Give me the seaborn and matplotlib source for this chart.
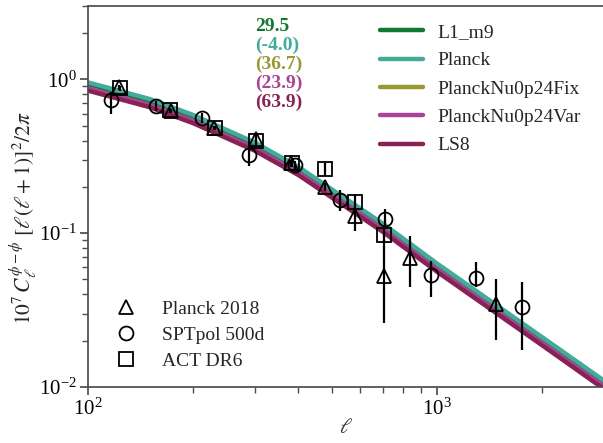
import numpy as np
import pandas as pd
import matplotlib
matplotlib.use("Agg")
import matplotlib.pyplot as plt
import seaborn as sns
from matplotlib.lines import Line2D

# model curves
ell = [100, 150, 200, 300, 400, 500, 700, 1000, 1500, 2000, 3000]
planck = [0.956, 0.746, 0.587, 0.389, 0.270, 0.192, 0.115, 0.0633, 0.0332, 0.0210, 0.0110]
l1_m9 = [0.930, 0.725, 0.570, 0.378, 0.262, 0.186, 0.1115, 0.0614, 0.0322, 0.0204, 0.01067]
nu_fix = [0.870, 0.680, 0.535, 0.354, 0.246, 0.175, 0.1047, 0.0577, 0.0302, 0.0191, 0.0100]
nu_var = [0.875, 0.684, 0.538, 0.356, 0.247, 0.176, 0.1053, 0.0580, 0.0304, 0.0192, 0.01008]
ls8 = [0.845, 0.660, 0.519, 0.344, 0.239, 0.170, 0.1017, 0.0560, 0.0294, 0.0186, 0.0097]

models = ["L1_m9", "Planck", "PlanckNu0p24Fix", "PlanckNu0p24Var", "LS8"]
colors = ["#117733", "#44AA99", "#999933", "#AA4499", "#882255"]
chi2 = ["29.5", "(-4.0)", "(36.7)", "(23.9)", "(63.9)"]

# measurements
planck18_ell = [122.6, 172.6, 229.6, 302, 381.7, 477.5, 582, 701.6, 833, 1476]
planck18_val = [0.887, 0.622, 0.485, 0.411, 0.284, 0.200, 0.1287, 0.0523, 0.0689, 0.0347]
planck18_lo = [0.03, 0.02, 0.015, 0.02, 0.015, 0.012, 0.026, 0.0262, 0.0239, 0.0145]
planck18_hi = [0.03, 0.02, 0.015, 0.03, 0.015, 0.012, 0.02, 0.0386, 0.0275, 0.0158]

spt_ell = [116.6, 157, 212, 289, 392, 527, 710, 961, 1294, 1744]
spt_val = [0.733, 0.670, 0.563, 0.3246, 0.2765, 0.165, 0.1243, 0.0537, 0.0511, 0.0331]
spt_lo = [0.141, 0.05, 0.04, 0.0496, 0.02, 0.026, 0.0177, 0.0152, 0.0061, 0.0157]
spt_hi = [0.09, 0.05, 0.04, 0.0434, 0.02, 0.025, 0.0193, 0.0118, 0.0137, 0.0154]

act_ell = [123.2, 171.5, 231, 302, 384, 477, 582, 702]
act_val = [0.874, 0.628, 0.485, 0.396, 0.284, 0.262, 0.159, 0.0978]
act_err = [0.03, 0.02, 0.015, 0.02, 0.015, 0.025, 0.02, 0.01]

sns.set_theme(style="ticks")
plt.rcParams["font.family"] = ["Liberation Serif", "DejaVu Serif"]
plt.rcParams["mathtext.fontset"] = "stix"

fig = plt.figure(figsize=(6.03, 4.43), dpi=100)
ax = fig.add_axes([88 / 603, 1 - 387 / 443, 516 / 603, 381 / 443])

curves = pd.DataFrame({"ell": ell, "L1_m9": l1_m9, "Planck": planck,
                       "PlanckNu0p24Fix": nu_fix, "PlanckNu0p24Var": nu_var, "LS8": ls8})
long = curves.melt(id_vars="ell", var_name="model", value_name="cl")
sns.lineplot(data=long, x="ell", y="cl", hue="model", hue_order=models,
             palette=colors, lw=3.2, ax=ax, legend=False)

mk = dict(ls="none", mfc="none", mec="black", ecolor="black", mew=1.3, ms=10, elinewidth=1.6, capsize=0)
ax.errorbar(planck18_ell, planck18_val, yerr=[planck18_lo, planck18_hi], marker="^", **mk)
ax.errorbar(spt_ell, spt_val, yerr=[spt_lo, spt_hi], marker="o", **mk)
ax.errorbar(act_ell, act_val, yerr=act_err, marker="s", **mk)

ax.set_xscale("log")
ax.set_yscale("log")
ax.set_xlim(100, 3000)
ax.set_ylim(0.01, 3)
ax.set_xlabel(r"$\ell$", fontsize=15, labelpad=0)
ax.set_ylabel(r"$10^7\,C_\ell^{\phi-\phi}\ [\ell(\ell+1)]^2/2\pi$", fontsize=15.5)
ax.yaxis.set_label_coords(-0.093, 0.444)
ax.tick_params(labelsize=15, colors="black", pad=2)
ax.tick_params(which="both", color="0.3")
for s in ax.spines.values():
    s.set_color("0.3")

# model legend
h1 = [Line2D([], [], color=c, lw=3.2) for c in colors]
leg1 = ax.legend(h1, models, loc="upper right", frameon=False, fontsize=14,
                 handlelength=2.2, handletextpad=0.72, labelspacing=0.55,
                 bbox_to_anchor=(0.988, 1.0))
ax.add_artist(leg1)

h2 = [Line2D([], [], ls="none", marker=m, mfc="none", mec="black", mew=1.3, ms=10)
      for m in ["^", "o", "s"]]
ax.legend(h2, ["Planck 2018", "SPTpol 500d", "ACT DR6"], loc="lower left", frameon=False,
          fontsize=14, handletextpad=0.86, labelspacing=0.43, bbox_to_anchor=(0.002, 0.0))

for i, (txt, c) in enumerate(zip(chi2, colors)):
    ax.text(0.324, 0.946 - i * 0.0495, txt, color=c, fontsize=14, fontweight="bold",
            transform=ax.transAxes, ha="left", va="center")

fig.savefig("out.png", dpi=100)
